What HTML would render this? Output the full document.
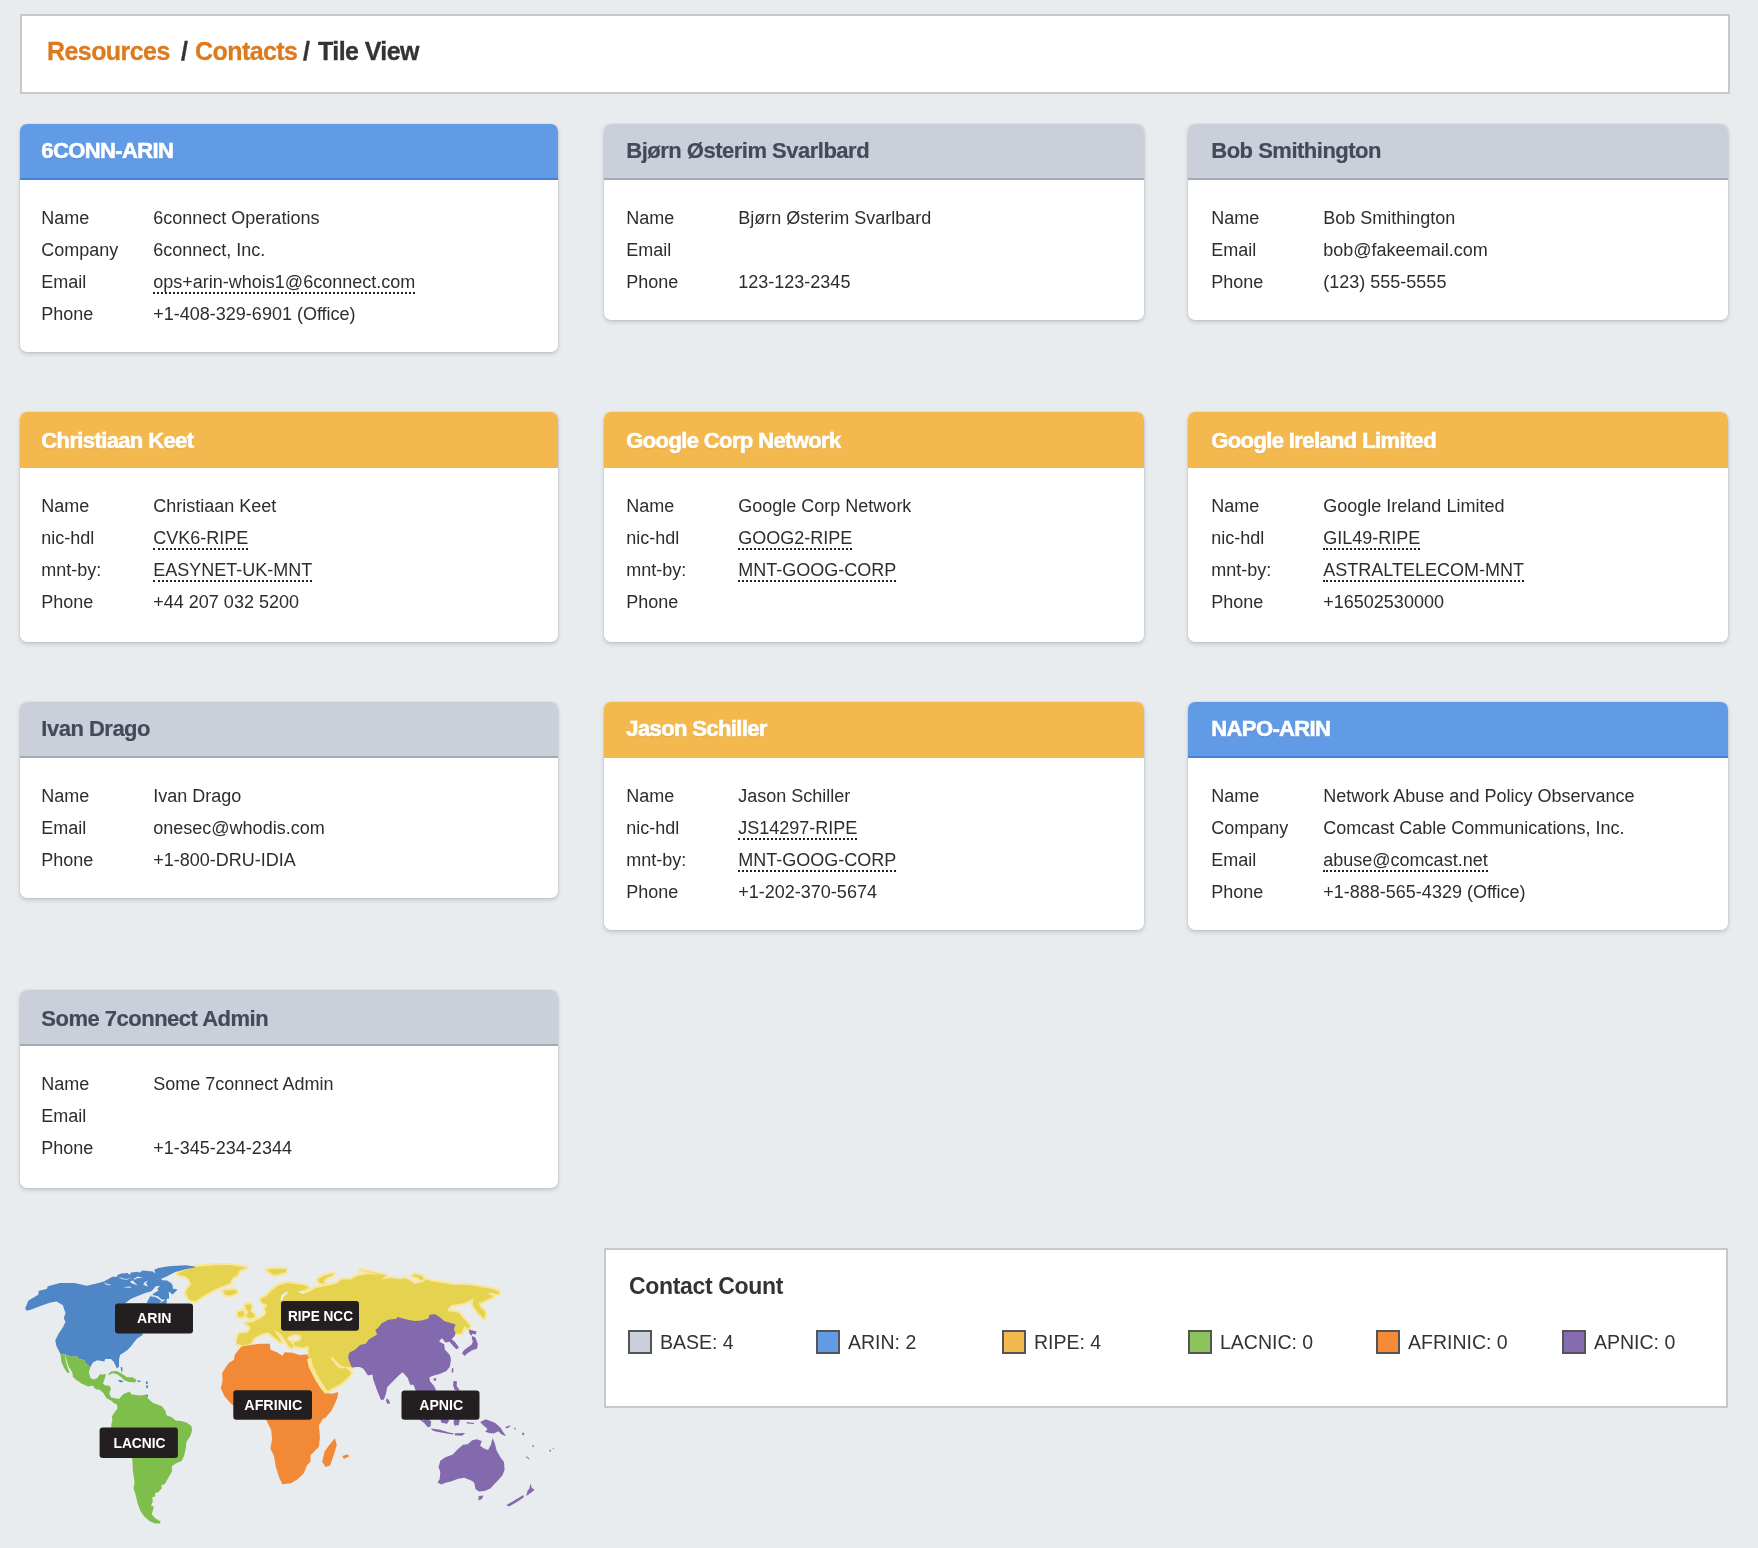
<!DOCTYPE html>
<html><head><meta charset="utf-8"><title>Contacts / Tile View</title>
<style>
*{box-sizing:border-box;margin:0;padding:0}
html,body{width:1758px;height:1548px;overflow:hidden}
body{will-change:transform;background:#e9ecef;font-family:"Liberation Sans",sans-serif;color:#2b2b2b;position:relative}
.crumb{position:absolute;left:20px;top:14px;width:1710px;height:80px;background:#fff;border:2px solid #c8c8c8}
.crumb h1{position:absolute;left:0;top:21px;font-size:25px;letter-spacing:-.57px;line-height:28px;font-weight:bold;white-space:nowrap;color:#333}
.crumb h1 span{position:absolute;top:0;-webkit-text-stroke:.3px}
.crumb h1 b{color:#dd7a1e}
.card{position:absolute;background:#fff;border-radius:7px;box-shadow:0 2px 4px rgba(30,40,50,.2),0 0 2px rgba(30,40,50,.14);overflow:hidden}
.hd{height:56px;position:relative;border-bottom:2px solid transparent}
.hd span{position:absolute;left:21px;top:0;font-size:22px;letter-spacing:-.62px;line-height:24px;margin-top:15px;font-weight:bold;white-space:nowrap}
.blue .hd{background:#619be6;border-bottom-color:#4583d8;color:#fff;-webkit-text-stroke:.6px #fff;text-shadow:0 1px 1px rgba(40,80,150,.35)}
.gray .hd{background:#cbcfd9;border-bottom-color:#a3a9b9;color:#434a59;-webkit-text-stroke:.2px #434a59}
.gray .hd span{letter-spacing:-.5px}
.orange .hd{background:#f3b94e;border-bottom-color:#f3b94e;color:#fff;-webkit-text-stroke:.6px #fff;text-shadow:0 1px 1px rgba(170,110,20,.3)}
.bd{padding:22px 0 0 21px;font-size:18px;line-height:32px;color:#2d2d2d}
.r{height:32px;white-space:nowrap;position:relative}
.l{position:absolute;left:0;top:0}
.v{position:absolute;left:112px;top:0}
.v a{display:inline-block;line-height:21px;height:22px;border-bottom:2px dotted #222;vertical-align:baseline}
.cc{position:absolute;left:604px;top:1248px;width:1124px;height:160px;background:#fff;border:2px solid #c8c8c8}
.cc h2{position:absolute;left:23px;top:22px;font-size:23px;letter-spacing:-.34px;line-height:28px;font-weight:bold;color:#333;white-space:nowrap}
.lg{position:absolute;top:80px;height:26px;white-space:nowrap}
.lg i{display:inline-block;width:24px;height:24px;border:2px solid #555;vertical-align:top}
.lg span{display:inline-block;font-size:19.5px;line-height:24px;margin-left:8px;vertical-align:top;color:#333}
.map{position:absolute;left:0;top:1240px;width:600px;height:308px}
</style></head><body>
<div class="crumb"><h1><span style="left:25px"><b>Resources</b></span><span style="left:159px">/</span><span style="left:173px"><b>Contacts</b></span><span style="left:281px">/</span><span style="left:296px">Tile View</span></h1></div>
<div class="card blue" style="left:20px;top:124px;width:538px;height:228px">
<div class="hd"><span style="top:0px;left:21.3px">6CONN-ARIN</span></div>
<div class="bd" style="padding-left:21.3px">
<div class="r"><span class="l">Name</span><span class="v">6connect Operations</span></div>
<div class="r"><span class="l">Company</span><span class="v">6connect, Inc.</span></div>
<div class="r"><span class="l">Email</span><span class="v"><a>ops+arin-whois1@6connect.com</a></span></div>
<div class="r"><span class="l">Phone</span><span class="v">+1-408-329-6901 (Office)</span></div>
</div></div>
<div class="card gray" style="left:604px;top:124px;width:540px;height:196px">
<div class="hd"><span style="top:0px;left:22.3px">Bjørn Østerim Svarlbard</span></div>
<div class="bd" style="padding-left:22.3px">
<div class="r"><span class="l">Name</span><span class="v">Bjørn Østerim Svarlbard</span></div>
<div class="r"><span class="l">Email</span><span class="v"></span></div>
<div class="r"><span class="l">Phone</span><span class="v">123-123-2345</span></div>
</div></div>
<div class="card gray" style="left:1188px;top:124px;width:540px;height:196px">
<div class="hd"><span style="top:0px;left:23.3px">Bob Smithington</span></div>
<div class="bd" style="padding-left:23.3px">
<div class="r"><span class="l">Name</span><span class="v">Bob Smithington</span></div>
<div class="r"><span class="l">Email</span><span class="v">bob@fakeemail.com</span></div>
<div class="r"><span class="l">Phone</span><span class="v">(123) 555-5555</span></div>
</div></div>
<div class="card orange" style="left:20px;top:412px;width:538px;height:230px">
<div class="hd"><span style="top:2px;left:21.3px">Christiaan Keet</span></div>
<div class="bd" style="padding-left:21.3px">
<div class="r"><span class="l">Name</span><span class="v">Christiaan Keet</span></div>
<div class="r"><span class="l">nic-hdl</span><span class="v"><a>CVK6-RIPE</a></span></div>
<div class="r"><span class="l">mnt-by:</span><span class="v"><a>EASYNET-UK-MNT</a></span></div>
<div class="r"><span class="l">Phone</span><span class="v">+44 207 032 5200</span></div>
</div></div>
<div class="card orange" style="left:604px;top:412px;width:540px;height:230px">
<div class="hd"><span style="top:2px;left:22.3px">Google Corp Network</span></div>
<div class="bd" style="padding-left:22.3px">
<div class="r"><span class="l">Name</span><span class="v">Google Corp Network</span></div>
<div class="r"><span class="l">nic-hdl</span><span class="v"><a>GOOG2-RIPE</a></span></div>
<div class="r"><span class="l">mnt-by:</span><span class="v"><a>MNT-GOOG-CORP</a></span></div>
<div class="r"><span class="l">Phone</span><span class="v"></span></div>
</div></div>
<div class="card orange" style="left:1188px;top:412px;width:540px;height:230px">
<div class="hd"><span style="top:2px;left:23.3px">Google Ireland Limited</span></div>
<div class="bd" style="padding-left:23.3px">
<div class="r"><span class="l">Name</span><span class="v">Google Ireland Limited</span></div>
<div class="r"><span class="l">nic-hdl</span><span class="v"><a>GIL49-RIPE</a></span></div>
<div class="r"><span class="l">mnt-by:</span><span class="v"><a>ASTRALTELECOM-MNT</a></span></div>
<div class="r"><span class="l">Phone</span><span class="v">+16502530000</span></div>
</div></div>
<div class="card gray" style="left:20px;top:702px;width:538px;height:196px">
<div class="hd"><span style="top:0px;left:21.3px">Ivan Drago</span></div>
<div class="bd" style="padding-left:21.3px">
<div class="r"><span class="l">Name</span><span class="v">Ivan Drago</span></div>
<div class="r"><span class="l">Email</span><span class="v">onesec@whodis.com</span></div>
<div class="r"><span class="l">Phone</span><span class="v">+1-800-DRU-IDIA</span></div>
</div></div>
<div class="card orange" style="left:604px;top:702px;width:540px;height:228px">
<div class="hd"><span style="top:0px;left:22.3px">Jason Schiller</span></div>
<div class="bd" style="padding-left:22.3px">
<div class="r"><span class="l">Name</span><span class="v">Jason Schiller</span></div>
<div class="r"><span class="l">nic-hdl</span><span class="v"><a>JS14297-RIPE</a></span></div>
<div class="r"><span class="l">mnt-by:</span><span class="v"><a>MNT-GOOG-CORP</a></span></div>
<div class="r"><span class="l">Phone</span><span class="v">+1-202-370-5674</span></div>
</div></div>
<div class="card blue" style="left:1188px;top:702px;width:540px;height:228px">
<div class="hd"><span style="top:0px;left:23.3px">NAPO-ARIN</span></div>
<div class="bd" style="padding-left:23.3px">
<div class="r"><span class="l">Name</span><span class="v">Network Abuse and Policy Observance</span></div>
<div class="r"><span class="l">Company</span><span class="v">Comcast Cable Communications, Inc.</span></div>
<div class="r"><span class="l">Email</span><span class="v"><a>abuse@comcast.net</a></span></div>
<div class="r"><span class="l">Phone</span><span class="v">+1-888-565-4329 (Office)</span></div>
</div></div>
<div class="card gray" style="left:20px;top:990px;width:538px;height:198px">
<div class="hd"><span style="top:2px;left:21.3px">Some 7connect Admin</span></div>
<div class="bd" style="padding-left:21.3px">
<div class="r"><span class="l">Name</span><span class="v">Some 7connect Admin</span></div>
<div class="r"><span class="l">Email</span><span class="v"></span></div>
<div class="r"><span class="l">Phone</span><span class="v">+1-345-234-2344</span></div>
</div></div>
<div class="map"><svg width="600" height="308" viewBox="0 0 600 308">
<path d="M177.2,33.8L184.6,30.4L194.8,26.9L214.1,25.2L230.1,25.0L246.6,27.5L239.2,30.4L237.5,34.9L232.3,37.8L230.1,42.9L223.2,45.7L213.0,50.3L202.8,56.0L194.8,61.6L189.1,59.4L185.7,52.5L188.0,48.0L191.4,44.6L189.1,38.9L184.6,36.0L180.0,35.5Z" fill="#e5d350" stroke="#f8e79b" stroke-width="4.2" stroke-linejoin="round" paint-order="stroke"/>
<path d="M222.7,50.8L228.9,50.3L235.7,49.7L236.9,53.1L230.1,55.4L225.5,54.8Z" fill="#e5d350" stroke="#f8e79b" stroke-width="4.2" stroke-linejoin="round" paint-order="stroke"/>
<path d="M266.5,29.8L276.7,28.7L286.4,29.2L285.8,32.1L280.1,33.8L274.4,34.9L269.9,32.6Z" fill="#e5d350" stroke="#f8e79b" stroke-width="4.2" stroke-linejoin="round" paint-order="stroke"/>
<path d="M317.7,39.5L323.3,36.0L333.6,33.2L332.4,35.5L325.6,38.3L323.3,41.2L325.6,43.4L319.9,42.9Z" fill="#e5d350" stroke="#f8e79b" stroke-width="4.2" stroke-linejoin="round" paint-order="stroke"/>
<path d="M244.8,65.1L250.5,63.9L251.7,67.3L250.0,70.7L253.9,74.2L255.1,77.0L249.4,78.1L246.0,76.4L248.3,71.9L246.0,68.5Z" fill="#e5d350" stroke="#f8e79b" stroke-width="4.2" stroke-linejoin="round" paint-order="stroke"/>
<path d="M238.0,71.9L243.1,70.7L244.8,74.2L242.0,77.0L238.0,76.4Z" fill="#e5d350" stroke="#f8e79b" stroke-width="4.2" stroke-linejoin="round" paint-order="stroke"/>
<path d="M236.9,99.2L239.2,93.5L248.3,92.4L250.5,88.9L249.4,85.5L244.8,83.3L252.8,82.1L259.6,78.7L266.5,74.2L264.8,68.5L267.6,65.1L261.9,62.8L260.8,58.8L266.5,56.0L271.0,51.4L277.8,45.7L286.9,42.9L294.9,44.0L302.9,45.1L308.6,47.4L304.0,50.3L298.3,51.4L302.9,54.2L309.7,51.4L316.5,48.0L327.9,45.7L337.0,43.4L341.5,39.5L350.6,39.5L357.5,36.0L367.7,34.3L380.0,34.9L360.0,29.8L371.4,32.1L386.2,35.5L381.6,39.5L391.9,38.3L399.8,39.5L405.5,38.3L412.3,42.3L415.7,44.0L421.4,41.7L424.8,39.5L433.9,41.7L445.3,43.4L454.4,45.1L462.4,44.8L473.8,45.7L482.9,47.4L492.0,49.1L499.4,51.4L498.8,54.2L493.1,53.1L487.4,52.5L493.1,57.1L487.4,59.4L482.9,61.6L478.3,63.4L480.6,67.3L485.1,71.9L484.6,78.7L479.5,74.2L474.9,68.5L472.6,63.9L473.8,58.2L469.2,60.5L464.7,62.8L459.0,63.9L451.0,65.1L448.2,68.5L447.6,71.3L454.4,71.9L459.0,73.0L462.4,77.6L466.9,82.1L469.8,86.1L468.1,88.9L464.7,85.5L461.3,93.5L455.6,93.5L448.7,87.8L428.3,92.4L394.1,101.5L360.0,117.4L354.1,127.6L347.2,127.1L341.5,125.9L337.0,121.9L332.4,116.8L330.2,117.4L332.4,120.8L337.0,126.5L341.5,128.8L345.0,127.6L348.4,129.9L351.2,133.3L349.5,135.6L345.0,140.1L339.3,144.7L332.4,148.1L326.8,152.1L322.2,147.0L316.5,137.9L310.8,126.5L309.1,118.5L308.6,114.0L308.6,106.0L302.9,107.2L294.9,106.0L293.8,102.6L300.6,99.2L299.5,96.9L293.8,99.2L290.4,101.5L293.8,106.0L291.5,108.3L288.1,104.9L284.7,99.2L280.1,93.5L274.4,90.1L276.7,94.6L280.1,99.2L281.3,102.6L276.7,99.2L271.0,94.6L268.7,92.4L261.9,93.5L253.9,98.0L250.5,103.7L243.7,105.4L236.9,103.7Z" fill="#e5d350" stroke="#f8e79b" stroke-width="4.2" stroke-linejoin="round" paint-order="stroke"/>
<path d="M412.3,36.0L413.5,34.3L421.4,35.5L423.7,38.9L421.4,40.6L418.0,37.8Z" fill="#e5d350" stroke="#f8e79b" stroke-width="4.2" stroke-linejoin="round" paint-order="stroke"/>
<path d="M280.1,59.9L281.8,54.8L286.9,51.6L288.1,53.1L284.1,56.5L282.4,60.5Z" fill="#e9ecef"/>
<path d="M298.3,51.6L303.4,50.5L305.1,52.5L302.3,53.9Z" fill="#e9ecef"/>
<path d="M289.2,98.6L293.8,96.3L299.5,97.1L298.3,99.2L292.6,100.3Z" fill="#e9ecef" stroke="#f8e79b" stroke-width="4.2" stroke-linejoin="round" paint-order="stroke"/>
<path d="M455.6,93.5L453.9,88.9L455.6,84.4L449.9,82.7L444.2,81.0L439.6,77.0L435.1,74.2L429.4,74.7L428.3,78.7L421.4,80.4L414.6,81.0L405.5,79.3L397.5,77.0L396.4,78.7L388.4,79.8L381.6,83.3L378.2,87.8L375.4,90.1L377.1,94.6L369.1,99.2L365.7,103.7L360.0,104.9L355.4,109.4L349.2,112.8L348.1,117.4L350.3,124.2L352.0,127.6L355.4,127.1L360.0,127.1L363.4,128.8L368.0,135.6L372.5,134.5L373.1,139.0L377.1,150.4L381.0,160.1L383.9,159.5L385.6,154.9L387.3,147.0L393.0,141.3L398.7,135.6L402.7,132.2L407.8,137.9L410.1,144.7L413.5,144.7L415.7,150.4L417.5,154.9L419.2,162.9L421.4,172.0L423.7,181.1L428.3,183.4L430.5,178.8L427.1,172.0L424.8,162.9L428.3,157.2L432.8,154.9L436.2,150.4L433.9,145.8L430.0,141.3L429.4,137.3L433.9,135.6L439.6,133.9L446.5,131.0L449.9,126.5L451.0,119.7L449.9,115.1L444.8,109.4L444.2,104.3L439.1,101.5L441.9,98.0L445.3,102.6L449.6,101.7L452.7,105.4L456.5,109.4L459.0,107.4L455.0,102.0L451.6,99.0L453.9,96.9Z" fill="#8369ad"/>
<path d="M387.3,158.3L389.8,161.8L389.6,164.0L387.1,163.5L385.9,160.1Z" fill="#8369ad"/>
<path d="M469.0,89.5L473.8,90.7L476.6,91.5L475.8,94.4L472.6,93.7L471.3,95.8L469.4,93.5Z" fill="#8369ad"/>
<path d="M472.1,96.0L475.4,97.4L477.9,104.3L477.0,108.7L472.1,110.3L468.6,112.6L465.2,115.1L462.2,113.7L463.0,111.5L465.2,109.2L468.6,106.7L471.7,104.4L472.9,101.2L471.7,98.6Z" fill="#8369ad"/>
<path d="M462.4,112.3L465.8,115.1L464.1,116.0Z" fill="#8369ad"/>
<path d="M451.9,128.2L453.5,128.2L453.1,132.7L451.6,132.2Z" fill="#8369ad"/>
<path d="M453.9,141.3L456.7,141.3L456.5,145.8L457.8,149.2L460.1,150.4L457.8,150.9L454.4,149.2L453.3,145.8Z" fill="#8369ad"/>
<path d="M433.4,138.4L436.2,137.9L436.0,140.7L433.9,140.7Z" fill="#8369ad"/>
<path d="M437.5,242.4L439.7,239.0L440.3,232.2L438.6,227.0L440.3,220.8L444.8,217.4L452.8,214.5L457.4,209.4L463.0,204.8L467.6,204.3L472.2,200.3L476.7,199.2L481.8,200.9L480.1,205.4L483.5,208.3L488.1,210.0L490.9,204.8L492.6,198.0L494.9,203.7L496.6,210.5L500.6,217.4L504.0,221.9L504.6,229.9L502.3,235.6L498.3,240.1L493.8,244.7L490.4,248.6L484.7,250.9L479.0,251.5L475.6,249.2L474.4,243.5L472.7,241.3L469.9,240.1L464.2,237.8L457.4,239.0L451.7,241.3L444.8,243.0L441.4,244.4Z" fill="#8369ad"/>
<path d="M478.7,256.0L483.5,255.5L481.8,258.9L478.4,260.4Z" fill="#8369ad"/>
<path d="M530.2,243.5L531.9,248.1L534.7,249.8L531.3,252.6L526.2,256.0L527.3,251.5L529.6,248.1Z" fill="#8369ad"/>
<path d="M506.3,265.1L513.1,261.2L523.3,255.1L523.9,257.2L516.5,262.3L509.1,266.5Z" fill="#8369ad"/>
<path d="M480.1,182.1L485.8,179.2L494.9,182.7L500.6,187.8L502.9,191.8L506.3,196.3L501.7,194.6L498.3,191.2L493.8,193.5L489.2,192.9L485.2,191.8L487.5,188.9L482.4,184.4Z" fill="#8369ad"/>
<path d="M417.5,174.1L423.2,180.4L431.2,181.0L430.6,186.6L427.8,187.2L424.4,183.2L418.7,178.7Z" fill="#8369ad"/>
<path d="M431.2,188.4L439.2,189.5L448.3,192.3L453.9,193.5L452.8,194.6L443.7,192.9L434.6,191.2L431.8,190.1Z" fill="#8369ad"/>
<path d="M454.5,193.2L465.3,192.9L461.9,195.7L455.1,195.2Z" fill="#8369ad"/>
<path d="M439.2,174.1L448.3,174.1L448.8,181.0L447.1,183.8L441.4,182.7Z" fill="#8369ad"/>
<path d="M453.9,177.5L459.6,179.2L459.6,181.5L458.5,185.5L455.7,184.9L455.1,186.6L453.7,183.2Z" fill="#8369ad"/>
<path d="M466.5,182.1L474.4,183.0L473.9,184.1L467.0,183.5Z" fill="#8369ad"/>
<path d="M505.1,186.9L510.3,185.3L509.7,186.9L506.3,188.4Z" fill="#8369ad"/>
<path d="M514.2,187.2L515.9,188.4L515.6,190.1L514.5,189.1Z" fill="#8369ad"/>
<path d="M522.2,192.6L524.5,193.2L523.6,195.5L522.2,194.6Z" fill="#8369ad"/>
<path d="M532.4,205.1L534.2,205.8L533.6,207.3L532.4,206.6Z" fill="#8369ad"/>
<path d="M549.5,209.6L551.2,210.3L550.6,211.9L549.5,211.1Z" fill="#8369ad"/>
<path d="M552.4,208.3L554.1,208.0L553.5,209.2Z" fill="#8369ad"/>
<path d="M526.2,216.0L529.6,218.7L528.8,219.4L526.0,216.8Z" fill="#8369ad"/>
<path d="M453.4,141.1L456.8,141.7L456.2,145.7L459.6,149.7L455.1,149.7L453.4,145.7Z" fill="#8369ad"/>
<path d="M241.4,106.6L250.5,104.9L259.6,103.7L269.9,103.7L270.4,109.4L277.8,112.8L282.4,115.7L284.7,112.3L292.6,112.8L299.5,115.1L307.4,114.5L309.1,118.5L310.8,126.5L316.5,137.9L322.2,147.0L326.8,153.2L332.4,153.8L338.1,152.1L337.6,157.2L334.7,164.0L331.3,170.9L324.5,178.8L323.7,177.7L319.0,185.2L319.9,197.4L319.0,206.7L310.5,215.2L310.5,221.7L306.8,225.5L304.0,233.0L297.4,239.5L290.9,243.3L282.4,244.2L279.6,238.6L275.9,227.4L274.0,216.1L270.3,208.6L272.1,199.2L271.2,189.9L266.5,180.5L264.6,174.9L256.2,169.3L237.5,168.3L233.4,165.5L230.0,162.7L224.4,156.1L220.6,147.7L221.0,147.5L222.7,140.1L222.1,133.3L225.5,127.6L228.9,123.1L234.0,119.7L234.6,115.1L238.0,110.6Z" fill="#f28937"/>
<path d="M334.9,198.3L336.8,204.9L334.0,214.2L330.2,225.5L325.5,227.0L322.2,221.7L324.6,211.4L329.3,204.9Z" fill="#f28937"/>
<path d="M342.4,216.1L348.0,214.2L349.0,216.5L343.9,218.9Z" fill="#f28937"/>
<path d="M309.1,118.5L310.8,126.5L316.5,137.9L322.2,147.0L326.8,152.7" fill="none" stroke="#f8e79b" stroke-width="4.2" stroke-linejoin="round" paint-order="stroke"/>
<path d="M25.1,68.5L28.5,60.5L38.2,54.8L38.8,50.8L46.7,49.1L47.9,46.3L59.8,42.9L74.6,42.9L86.6,45.7L98.5,42.9L103.7,41.6L109.8,38.2L112.5,36.8L117.3,36.8L117.3,35.1L121.4,33.4L127.5,33.1L129.6,34.8L131.0,32.4L137.8,31.7L139.1,32.7L142.6,30.4L148.0,31.0L152.8,31.4L155.5,33.8L154.2,29.7L158.3,28.0L168.5,26.3L185.6,25.2L194.8,26.6L194.8,27.6L185.6,29.3L175.3,32.1L167.1,36.2L161.0,38.9L162.4,40.3L167.1,40.6L171.9,43.7L172.9,46.4L172.6,48.4L177.7,49.5L172.6,54.6L168.8,52.2L169.2,58.7L166.8,58.7L166.5,62.8L166.5,69.6L142.9,93.5L142.3,95.2L137.2,98.6L133.8,102.6L130.9,106.6L126.9,110.6L120.1,115.1L119.0,119.7L119.0,127.1L116.7,128.2L113.9,121.9L111.0,119.1L105.3,119.1L104.2,121.4L97.4,120.2L92.8,122.5L90.5,127.1L88.8,125.9L85.4,123.1L84.8,120.2L79.2,119.1L76.9,116.3L71.2,116.8L65.5,114.5L60.4,114.0L56.4,106.0L55.3,100.3L58.7,93.5L63.2,86.7L65.5,82.1L63.8,78.1L65.5,73.0L62.7,65.1L56.4,61.6L49.6,62.8L39.9,66.2L31.4,69.6L26.8,70.7Z" fill="#4f86c6"/>
<path d="M125.5,63.1L131.0,58.7L137.8,56.0L144.6,53.2L151.4,51.2L153.5,49.1L155.5,46.4L160.0,45.7L157.2,49.1L158.6,50.5L155.5,52.2L152.5,54.2L150.1,56.3L146.7,63.1Z" fill="#e9ecef"/>
<path d="M152.5,54.2L153.8,55.3L158.3,56.6L161.7,59.4L165.4,59.7L160.3,63.1L159.5,63.1L161.7,61.4L159.6,59.4L155.5,57.0L150.1,56.3Z" fill="#e9ecef"/>
<path d="M130.3,41.3L133.0,40.6L135.1,43.0L137.8,45.7L136.4,45.0L133.7,44.0L131.0,43.0Z" fill="#e9ecef"/>
<path d="M143.2,44.4L144.6,42.3L148.0,40.3L146.0,43.0L148.0,46.7L146.0,46.1Z" fill="#e9ecef"/>
<path d="M133.7,38.9L137.8,36.5L143.9,38.2L141.9,38.0L137.8,37.9L134.4,39.7Z" fill="#e9ecef"/>
<path d="M118.7,36.8L122.1,38.2L126.9,38.9L132.3,37.5L126.9,39.7L121.4,38.9Z" fill="#e9ecef"/>
<path d="M124.1,47.1L130.3,46.5L131.0,47.8L124.5,47.6Z" fill="#e9ecef"/>
<path d="M103.7,42.0L107.1,44.0L110.5,44.4L110.1,45.4L105.7,44.4Z" fill="#e9ecef"/>
<path d="M168.5,52.2L169.9,51.9L171.9,54.6L171.2,54.9Z" fill="#e9ecef"/>
<path d="M120.6,127.1L122.2,127.1L122.6,129.9L121.9,132.7L121.0,130.1Z" fill="#4f86c6"/>
<path d="M117.6,140.6L120.7,140.1L123.8,141.3L120.7,142.4Z" fill="#4f86c6"/>
<path d="M137.4,140.4L140.8,140.4L139.7,142.2L137.6,141.7Z" fill="#4f86c6"/>
<path d="M145.7,141.5L148.0,141.5L147.6,144.1L146.1,144.1Z" fill="#4f86c6"/>
<path d="M146.1,145.3L148.1,145.6L147.9,148.3L146.3,148.1Z" fill="#4f86c6"/>
<path d="M145.5,154.7L147.8,154.4L147.8,157.4L145.7,157.0Z" fill="#4f86c6"/>
<path d="M60.4,114.0L65.5,114.5L71.2,116.8L76.9,116.3L79.2,119.1L84.8,120.2L85.4,123.1L88.8,125.9L90.5,127.1L88.8,132.2L90.5,137.9L93.4,139.6L97.4,137.9L99.6,134.5L105.9,134.2L104.8,138.4L103.0,143.6L104.8,145.3L109.3,145.8L111.0,148.7L109.3,153.2L111.0,157.2L115.0,158.3L119.0,158.9L123.2,154.2L129.5,151.4L131.2,154.2L140.3,155.4L146.0,154.8L147.7,158.2L152.8,162.8L157.4,164.5L161.9,166.2L165.3,170.7L166.5,175.3L172.2,177.5L175.6,180.4L181.3,181.0L186.9,182.7L191.5,186.1L192.1,190.6L190.4,195.7L186.4,202.0L185.8,208.3L184.1,215.7L181.8,220.8L175.6,223.6L171.6,226.5L172.2,231.0L168.7,237.3L164.8,244.1L161.3,245.2L161.9,248.1L158.5,252.1L155.1,253.2L155.1,256.6L152.2,257.2L152.8,261.2L151.1,265.7L153.9,266.8L152.8,270.8L151.7,274.2L155.1,278.2L160.8,281.6L159.6,283.6L155.1,283.6L149.4,281.1L144.3,276.5L140.3,270.8L137.5,262.9L135.7,254.9L133.5,248.1L134.6,242.4L132.9,231.0L132.3,218.5L125.5,208.3L111.3,187.6L111.3,184.4L112.4,179.8L111.9,176.4L114.1,173.0L117.5,168.4L117.0,164.5L114.1,163.3L114.4,163.5L111.0,160.6L106.5,158.3L103.6,153.2L99.6,149.8L95.7,149.2L92.8,145.8L88.3,146.4L81.4,143.6L75.7,139.6L72.9,136.7L72.3,132.2L68.9,127.1L65.5,120.8L62.7,117.4Z" fill="#7ebe4a"/>
<path d="M60.4,114.2L63.8,115.7L65.5,120.8L67.8,127.6L69.5,132.7L67.2,132.7L63.8,127.6L61.5,121.9Z" fill="#7ebe4a"/>
<path d="M64.7,116.6L65.6,116.6L69.4,129.7L68.7,130.1Z" fill="#e9ecef"/>
<path d="M108.2,133.9L111.0,131.6L116.7,131.0L122.4,133.9L126.9,137.3L132.6,137.3L136.6,140.1L134.9,142.4L128.1,141.8L124.1,140.1L121.3,137.3L116.7,133.9L112.2,133.3L109.3,135.0Z" fill="#7ebe4a"/>
<rect x="115.0" y="63.4" width="78.0" height="30.2" rx="3" fill="#231f20"/>
<text x="137.0" y="83.4" textLength="34.5" lengthAdjust="spacingAndGlyphs" font-family="Liberation Sans, sans-serif" font-weight="bold" font-size="15.5" fill="#fff">ARIN</text>
<rect x="281.0" y="61.0" width="78.0" height="29.8" rx="3" fill="#231f20"/>
<text x="288.0" y="80.8" textLength="65" lengthAdjust="spacingAndGlyphs" font-family="Liberation Sans, sans-serif" font-weight="bold" font-size="15.5" fill="#fff">RIPE NCC</text>
<rect x="233.3" y="150.2" width="78.7" height="29.6" rx="3" fill="#231f20"/>
<text x="244.3" y="169.9" textLength="58" lengthAdjust="spacingAndGlyphs" font-family="Liberation Sans, sans-serif" font-weight="bold" font-size="15.5" fill="#fff">AFRINIC</text>
<rect x="99.6" y="187.6" width="78.3" height="30.4" rx="3" fill="#231f20"/>
<text x="113.5" y="207.7" textLength="52" lengthAdjust="spacingAndGlyphs" font-family="Liberation Sans, sans-serif" font-weight="bold" font-size="15.5" fill="#fff">LACNIC</text>
<rect x="401.5" y="150.4" width="78.0" height="29.4" rx="3" fill="#231f20"/>
<text x="419.2" y="170.0" textLength="44" lengthAdjust="spacingAndGlyphs" font-family="Liberation Sans, sans-serif" font-weight="bold" font-size="15.5" fill="#fff">APNIC</text>
</svg></div>
<div class="cc"><h2>Contact Count</h2>
<div class="lg" style="left:22px"><i style="background:#cbcfd9"></i><span>BASE: 4</span></div>
<div class="lg" style="left:210px"><i style="background:#619be6"></i><span>ARIN: 2</span></div>
<div class="lg" style="left:396px"><i style="background:#f3b94e"></i><span>RIPE: 4</span></div>
<div class="lg" style="left:582px"><i style="background:#8dc25c"></i><span>LACNIC: 0</span></div>
<div class="lg" style="left:770px"><i style="background:#f58a38"></i><span>AFRINIC: 0</span></div>
<div class="lg" style="left:956px"><i style="background:#856bb0"></i><span>APNIC: 0</span></div>
</div>
</body></html>
